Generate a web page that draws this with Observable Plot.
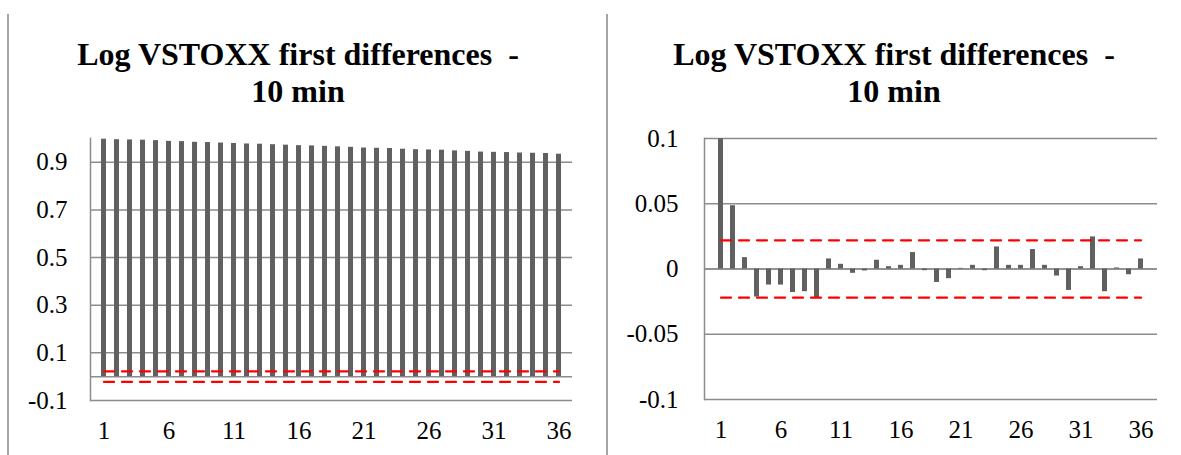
<!DOCTYPE html>
<html>
<head>
<meta charset="utf-8">
<script src="https://cdn.jsdelivr.net/npm/d3@7"></script>
<script src="https://cdn.jsdelivr.net/npm/@observablehq/plot@0.6"></script>
<style>
  body { margin: 0; background: #fff; }
  #wrap { position: relative; width: 1181px; height: 455px; overflow: hidden; background: #fff;
          font-family: "Liberation Serif", Tinos, "Times New Roman", Times, serif; }
  .title { position: absolute; text-align: center; font-weight: bold; font-size: 32px;
           line-height: 37px; color: #000; white-space: pre; }
  .panel { position: absolute; top: 120px; }
  .vline { position: absolute; width: 2px; background: #a6a6a6; }
</style>
</head>
<body>
<div id="wrap">
  <div class="vline" style="left:7px;top:14px;height:441px"></div>
  <div class="vline" style="left:606px;top:14px;height:441px"></div>
  <div class="title" style="left:8px;width:580px;top:36px">Log VSTOXX first differences  -
10 min</div>
  <div class="title" style="left:607px;width:574px;top:36px">Log VSTOXX first differences  -
10 min</div>
  <div class="panel" id="left" style="left:0px"></div>
  <div class="panel" id="right" style="left:600px"></div>
</div>
<script>
// ---- data ----
const lags = [1,2,3,4,5,6,7,8,9,10,11,12,13,14,15,16,17,18,19,20,21,22,23,24,25,26,27,28,29,30,31,32,33,34,35,36];

// left panel: autocorrelations of the levels
const levelAcf = [0.997,0.995,0.994,0.993,0.991,0.988,0.987,0.984,0.983,0.981,
                  0.979,0.977,0.976,0.974,0.972,0.970,0.969,0.967,0.965,0.963,
                  0.960,0.959,0.958,0.955,0.953,0.952,0.951,0.948,0.946,0.943,
                  0.942,0.941,0.939,0.938,0.937,0.934];

// right panel: autocorrelations of the first differences
const diffAcf = [0.0997,0.0485,0.0087,-0.0215,-0.0123,-0.0123,-0.0180,-0.0174,-0.0220,0.0077,
                 0.0036,-0.0033,-0.0015,0.0067,0.0018,0.0028,0.0126,-0.0013,-0.0103,-0.0074,
                 0.0005,0.0028,-0.0013,0.0169,0.0028,0.0028,0.0149,0.0028,-0.0054,-0.0164,
                 0.0018,0.0246,-0.0174,0.0008,-0.0044,0.0077];

const confBand = 0.022;           // +/- confidence bound (red dashed)

const levelDomain = [-0.1, 1.0];
const levelTicks  = [-0.1, 0.1, 0.3, 0.5, 0.7, 0.9];
const diffDomain  = [-0.1, 0.1];
const diffTicks   = [-0.1, -0.05, 0, 0.05, 0.1];
const xTicks      = [1, 6, 11, 16, 21, 26, 31, 36];

// ---- styles ----
const FONT = "'Liberation Serif', Tinos, 'Times New Roman', Times, serif";
const GRID = "#8c8c8c";
const BAR  = "#606060";
const RED  = "#ff0000";

function acfChart({values, yDomain, yTicks, width, marginLeft, marginRight, marginTop, marginBottom, yPad}) {
  const rows = lags.map((lag, i) => ({lag, acf: values[i]}));
  const upper = lags.map(lag => ({lag, v: confBand}));
  const lower = lags.map(lag => ({lag, v: -confBand}));
  return Plot.plot({
    width, height: 335, marginLeft, marginRight, marginTop, marginBottom,
    style: {fontFamily: FONT, fontSize: "25px", color: "#000", background: "transparent"},
    x: {type: "band", domain: lags, paddingInner: 0.62, paddingOuter: 0.31, label: null},
    y: {domain: yDomain, label: null},
    marks: [
      Plot.gridY(yTicks, {stroke: GRID, strokeOpacity: 1, strokeWidth: 1.5}),
      Plot.ruleY([0], {stroke: GRID, strokeWidth: 1.5}),
      Plot.frame({anchor: "left", stroke: GRID, strokeWidth: 1.5}),
      Plot.barY(rows, {x: "lag", y: "acf", fill: BAR}),
      Plot.line(upper, {x: "lag", y: "v", stroke: RED, strokeWidth: 2.25, strokeDasharray: "10,8"}),
      Plot.line(lower, {x: "lag", y: "v", stroke: RED, strokeWidth: 2.25, strokeDasharray: "10,8"}),
      Plot.axisY(yTicks, {tickSize: 0, tickPadding: yPad, tickFormat: d => String(d), label: null, fontFamily: FONT}),
      Plot.axisX(xTicks, {tickSize: 0, tickPadding: 21, tickFormat: d => String(d), label: null, fontFamily: FONT})
    ]
  });
}

document.getElementById("left").appendChild(acfChart({
  values: levelAcf, yDomain: levelDomain, yTicks: levelTicks,
  width: 600, marginLeft: 90, marginRight: 28, marginTop: 18, marginBottom: 55, yPad: 23
}));

document.getElementById("right").appendChild(acfChart({
  values: diffAcf, yDomain: diffDomain, yTicks: diffTicks,
  width: 581, marginLeft: 104, marginRight: 24, marginTop: 18, marginBottom: 56, yPad: 26
}));
</script>
</body>
</html>
